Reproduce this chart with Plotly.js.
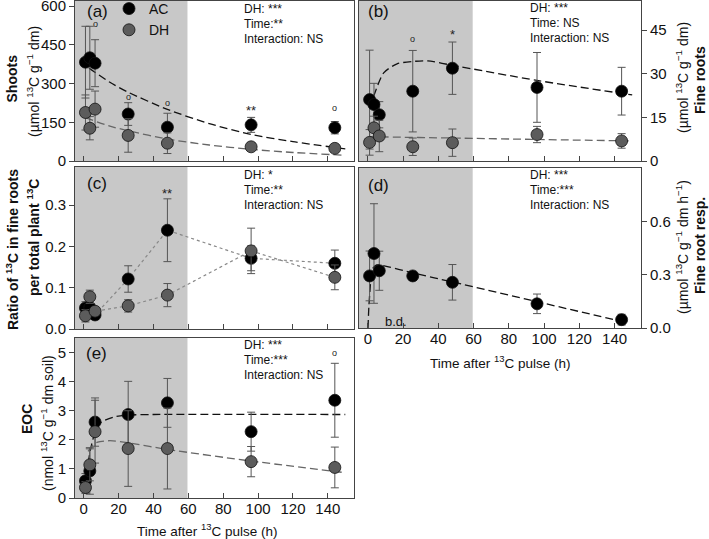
<!DOCTYPE html>
<html>
<head>
<meta charset="utf-8">
<script src="https://cdn.plot.ly/plotly-3.0.1.min.js"></script>
<style>body{margin:0;background:#fff;} #chart{width:709px;height:539px;}</style>
</head>
<body>
<div id="chart"></div>
<script>
// sampling times (h after pulse)
const hours = [1, 3.5, 6.5, 25.5, 48, 96, 144];
const shadeEnd = 59.5;

// (a) shoots, umol 13C g-1 dm
const shootAC = [383, 400, 379, 182, 131, 140, 129];
const shootACerr = [139, 122, 91, 44, 54, 29, 24];
const shootDH = [188, 127, 201, 99, 69, 55, 49];
const shootDHerr = [68, 45, 70, 65, 40, 15, 12];
const shootFitACt = [3, 15, 25, 48, 72, 96, 120, 150];
const shootFitAC = [360, 305, 268, 200, 145, 103, 75, 47];
const shootFitDHt = [1, 15, 25, 48, 72, 96, 120, 150];
const shootFitDH = [168, 135, 118, 85, 62, 45, 33, 22];

// (b) fine roots
const rootAC = [21.1, 19.4, 15.9, 24.0, 31.9, 25.3, 24.0];
const rootACerr = [17, 7.3, 4.5, 14, 9, 12, 8.2];
const rootDH = [6.4, 11.4, 8.6, 4.9, 6.3, 9.1, 6.9];
const rootDHerr = [4.4, 4, 5.4, 3, 4.7, 2.8, 2.5];
const rootFitACt = [0.6, 3.4, 9, 16.6, 25, 34, 48, 96, 150];
const rootFitAC = [18.5, 22.5, 30.3, 33.4, 34.2, 34.4, 32.9, 27.7, 22.7];
const rootFitDHt = [0.6, 6.5, 48, 96, 150];
const rootFitDH = [8.4, 8.3, 7.9, 7.4, 6.9];

// (c) ratio of 13C in fine roots per total plant 13C
const ratioAC = [0.051, 0.052, 0.034, 0.121, 0.239, 0.171, 0.159];
const ratioACerr = [0.015, 0.02, 0.008, 0.032, 0.076, 0.03, 0.032];
const ratioDH = [0.032, 0.078, 0.043, 0.056, 0.082, 0.189, 0.125];
const ratioDHerr = [0.015, 0.016, 0.01, 0.015, 0.028, 0.055, 0.03];

// (d) fine root respiration (AC only, DH below detection)
const respAC = [0.293, 0.419, 0.322, 0.293, 0.257, 0.136, 0.047];
const respACerr = [0.14, 0.28, 0.11, 0.02, 0.1, 0.055, 0.03];
const respFitt = [0.1, 0.6, 1.3, 2.5, 5, 8, 25.5, 48, 96, 144];
const respFit = [0.0, 0.12, 0.22, 0.33, 0.355, 0.352, 0.31, 0.259, 0.148, 0.037];

// (e) EOC, nmol 13C g-1 dm soil
const eocAC = [0.59, 0.93, 2.61, 2.87, 3.27, 2.28, 3.36];
const eocACerr = [0.25, 0.8, 0.83, 1.14, 0.84, 0.67, 1.27];
const eocDH = [0.36, 1.14, 2.28, 1.70, 1.70, 1.25, 1.05];
const eocDHerr = [0.2, 0.55, 1.08, 1.3, 1.39, 0.52, 0.7];
const eocFitACt = [2.5, 4, 7, 10, 17, 25, 40, 150];
const eocFitAC = [1.2, 1.7, 2.35, 2.6, 2.78, 2.85, 2.87, 2.87];
const eocFitDHt = [2.5, 5, 8, 15, 25, 48, 96, 150];
const eocFitDH = [1.6, 1.8, 1.92, 1.97, 1.9, 1.67, 1.27, 0.87];

// statistics text per panel
const statsA = ["DH: ***", "Time:**", "Interaction: NS"];
const statsB = ["DH: ***", "Time: NS", "Interaction: NS"];
const statsC = ["DH: *", "Time:**", "Interaction: NS"];
const statsD = ["DH: ***", "Time:***", "Interaction: NS"];
const statsE = ["DH: ***", "Time:***", "Interaction: NS"];

window.addEventListener("load", () => {
  const W = 709, H = 539;
  const px = v => v / W;
  const py = v => 1 - v / H;
  const FONT = "Liberation Sans, Arial, sans-serif";
  const AC_COL = "#000000", DH_COL = "#5c5c5c", ERR_COL = "#555555";

  function pts(xa, ya, y, err, color, name, legend) {
    return {
      x: hours, y: y, xaxis: xa, yaxis: ya, type: "scatter", mode: "markers",
      name: name, showlegend: legend, legendgroup: name,
      marker: {color: color, size: 12, line: {color: "#111", width: 0.8}},
      error_y: {type: "data", array: err, visible: true, color: ERR_COL, thickness: 1, width: 4}
    };
  }
  function fit(xa, ya, t, v, color) {
    return {
      x: t, y: v, xaxis: xa, yaxis: ya, type: "scatter", mode: "lines", showlegend: false,
      line: {color: color, width: 1.3, dash: "8px,4px", shape: "spline", smoothing: 0.7},
      hoverinfo: "skip"
    };
  }
  function dotted(xa, ya, y, color) {
    return {
      x: hours, y: y, xaxis: xa, yaxis: ya, type: "scatter", mode: "lines", showlegend: false,
      line: {color: color, width: 1.2, dash: "dot"}, hoverinfo: "skip"
    };
  }

  const traces = [
    fit("x", "y", shootFitACt, shootFitAC, "#111"),
    fit("x", "y", shootFitDHt, shootFitDH, "#666"),
    pts("x", "y", shootAC, shootACerr, AC_COL, "AC", true),
    pts("x", "y", shootDH, shootDHerr, DH_COL, "DH", true),

    fit("x2", "y2", rootFitACt, rootFitAC, "#111"),
    fit("x2", "y2", rootFitDHt, rootFitDH, "#666"),
    pts("x2", "y2", rootAC, rootACerr, AC_COL, "AC", false),
    pts("x2", "y2", rootDH, rootDHerr, DH_COL, "DH", false),

    dotted("x3", "y3", ratioAC, "#888"),
    dotted("x3", "y3", ratioDH, "#888"),
    pts("x3", "y3", ratioAC, ratioACerr, AC_COL, "AC", false),
    pts("x3", "y3", ratioDH, ratioDHerr, DH_COL, "DH", false),

    fit("x4", "y4", respFitt, respFit, "#111"),
    pts("x4", "y4", respAC, respACerr, AC_COL, "AC", false),

    fit("x5", "y5", eocFitACt, eocFitAC, "#111"),
    fit("x5", "y5", eocFitDHt, eocFitDH, "#666"),
    pts("x5", "y5", eocAC, eocACerr, AC_COL, "AC", false),
    pts("x5", "y5", eocDH, eocDHerr, DH_COL, "DH", false)
  ];

  const xticks = [0, 20, 40, 60, 80, 100, 120, 140];
  const leftDom = [px(75), px(354)], rightDom = [px(359), px(641)];
  function xa(dom, anchor, labels) {
    return {
      domain: dom, anchor: anchor, range: [-5, 155], tickvals: xticks,
      ticks: "inside", ticklen: 5, tickcolor: "#444", showticklabels: labels,
      showline: true, mirror: true, linecolor: "#444", linewidth: 1,
      showgrid: false, zeroline: false, tickfont: {size: 15, color: "#111"},
      ticklabeloverflow: "allow", ticklabelstandoff: -3
    };
  }
  function ya(dom, anchor, range, vals, side, fmt) {
    return {
      domain: dom, anchor: anchor, range: range, tickvals: vals, side: side,
      tickformat: fmt, ticks: "outside", ticklen: 5, tickcolor: "#444",
      showline: true, mirror: true, linecolor: "#444", linewidth: 1,
      showgrid: false, zeroline: false, tickfont: {size: 15, color: "#111"},
      ticklabeloverflow: "allow"
    };
  }

  const shade = (xr, yr) => ({
    type: "rect", xref: xr, yref: yr + " domain", x0: -5, x1: shadeEnd, y0: 0, y1: 1,
    fillcolor: "#c8c8c8", line: {width: 0}, layer: "below"
  });

  const ann = [];
  function txt(x, y, text, opts) {
    ann.push(Object.assign({
      x: x, y: y, xref: "paper", yref: "paper", text: text, showarrow: false,
      xanchor: "center", yanchor: "middle",
      font: {size: 14, color: "#111", family: FONT}
    }, opts || {}));
  }
  // panel labels
  [["(a)", 97, 12], ["(b)", 379, 12], ["(c)", 96.5, 184], ["(d)", 379, 185], ["(e)", 96, 353]]
    .forEach(d => txt(px(d[1]), py(d[2]), d[0], {font: {size: 17, color: "#111", family: FONT}}));
  // statistics, one line per annotation
  [[statsA, 242, 9], [statsB, 528, 8], [statsC, 242, 175], [statsD, 528, 175], [statsE, 242, 345]]
    .forEach(s => s[0].forEach((line, i) => txt(px(s[1]), py(s[2] + i * 14.8), line, {
      xanchor: "left", font: {size: 12, color: "#111", family: FONT}
    })));
  // axis titles
  const rot = {textangle: -90};
  txt(px(11.5), py(79), "<b>Shoots</b>", rot);
  txt(px(33), py(82), "(µmol <sup>13</sup>C g<sup>−1</sup> dm)", rot);
  txt(px(682), py(78), "(µmol <sup>13</sup>C g<sup>−1</sup> dm)", rot);
  txt(px(700), py(80), "<b>Fine roots</b>", rot);
  txt(px(12), py(250), "<b>Ratio of <sup>13</sup>C in fine roots</b>", rot);
  txt(px(33), py(238), "<b>per total plant <sup>13</sup>C</b>", rot);
  txt(px(682), py(247), "(µmol <sup>13</sup>C g<sup>−1</sup> dm h<sup>−1</sup>)", rot);
  txt(px(700), py(246), "<b>Fine root resp.</b>", rot);
  txt(px(27), py(419), "<b>EOC</b>", rot);
  txt(px(47), py(423), "(nmol <sup>13</sup>C g<sup>−1</sup> dm soil)", rot);
  txt(px(500), py(362), "Time after <sup>13</sup>C pulse (h)", {font: {size: 13.5, color: "#111", family: FONT}});
  txt(px(207), py(530), "Time after <sup>13</sup>C pulse (h)", {font: {size: 13.5, color: "#111", family: FONT}});

  // significance marks
  const sig = [
    ["x", "y", 7, 531, "o"], ["x", "y", 25.5, 249, "o"], ["x", "y", 48, 226, "o"],
    ["x", "y", 96, 208, "**"], ["x", "y", 144, 204, "o"],
    ["x2", "y2", 25.5, 41.8, "o"], ["x2", "y2", 48, 44.4, "*"],
    ["x3", "y3", 48, 0.336, "**"],
    ["x5", "y5", 144, 4.97, "o"]
  ];
  sig.forEach(s => ann.push({
    xref: s[0], yref: s[1], x: s[2], y: s[3], text: s[4], showarrow: false,
    xanchor: "center", yanchor: "middle",
    font: {size: s[4] === "o" ? 9 : 13, color: "#222", family: FONT},
    yshift: s[4] === "o" ? 0 : -3
  }));
  ann.push({xref: "x4", yref: "y4", x: 16, y: 0.034, text: "b.d.", showarrow: false,
    xanchor: "center", yanchor: "middle", font: {size: 13, color: "#111", family: FONT}});

  const layout = {
    width: W, height: H, margin: {l: 0, r: 0, t: 0, b: 0, autoexpand: false},
    paper_bgcolor: "#fff", plot_bgcolor: "rgba(0,0,0,0)",
    font: {family: FONT, color: "#111"},
    xaxis: xa(leftDom, "y", false),
    yaxis: ya([py(161), py(1)], "x", [0, 620], [0, 150, 300, 450, 600], "left"),
    xaxis2: xa(rightDom, "y2", false),
    yaxis2: ya([py(161), py(1)], "x2", [0, 55], [0, 15, 30, 45], "right"),
    xaxis3: xa(leftDom, "y3", false),
    yaxis3: ya([py(329), py(167)], "x3", [0, 0.392], [0, 0.1, 0.2, 0.3], "left", ".1f"),
    xaxis4: xa(rightDom, "y4", true),
    yaxis4: ya([py(328), py(168)], "x4", [0, 0.9], [0, 0.3, 0.6], "right", ".1f"),
    xaxis5: xa(leftDom, "y5", true),
    yaxis5: ya([py(498), py(338)], "x5", [0, 5.5], [0, 1, 2, 3, 4, 5], "left"),
    shapes: [shade("x", "y"), shade("x2", "y2"), shade("x3", "y3"), shade("x4", "y4"), shade("x5", "y5")],
    annotations: ann,
    showlegend: true,
    legend: {x: px(109), y: 1 + 7 / H, xanchor: "left", yanchor: "top", bgcolor: "rgba(0,0,0,0)",
      font: {size: 14, color: "#111", family: FONT}, tracegroupgap: 0, itemwidth: 30}
  };

  Plotly.newPlot("chart", traces, layout, {displayModeBar: false, staticPlot: true});
});
</script>
</body>
</html>
